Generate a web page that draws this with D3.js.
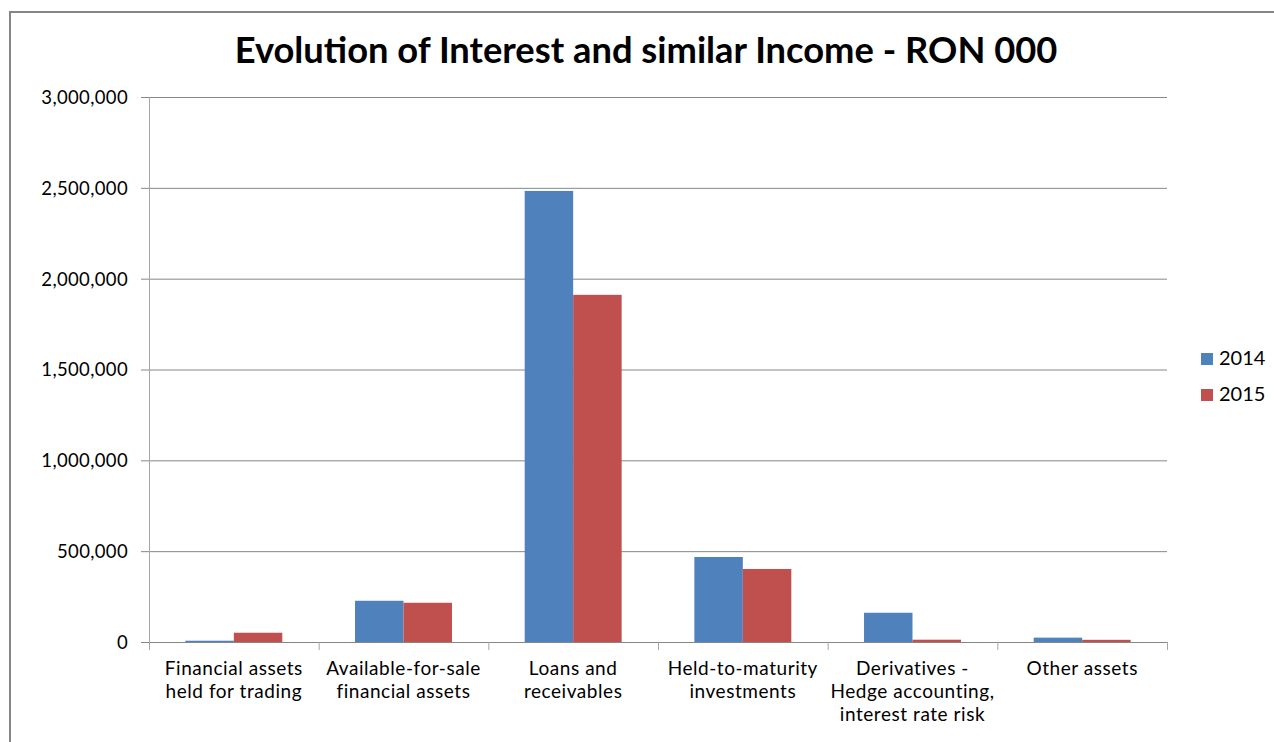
<!DOCTYPE html>
<html lang="en">
<head>
    <meta charset="UTF-8">
    <title>Evolution of Interest and similar Income</title>
    <script src="https://d3js.org/d3.v7.min.js"></script>
    <style>
        body { margin: 0; background: #fff; }
        text { font-family: Lato, "Open Sans", sans-serif; fill: #000; }
    </style>
</head>
<body>
<script>
    const width = 1274;
    const height = 742;

    // data (RON 000)
    const categories = [
        "Financial assets\nheld for trading",
        "Available-for-sale\nfinancial assets",
        "Loans and\nreceivables",
        "Held-to-maturity\ninvestments",
        "Derivatives -\nHedge accounting,\ninterest rate risk",
        "Other assets"
    ];
    const series = ["2014", "2015"];
    const values2014 = [7000, 227000, 2483000, 468000, 161000, 24000];
    const values2015 = [51000, 216000, 1911000, 402000, 12700, 12000];
    const yTicks = [0, 500000, 1000000, 1500000, 2000000, 2500000, 3000000];
    const colors = ["#4F81BD", "#C0504D"];

    const plot = {left: 149, right: 1167, top: 97, bottom: 642};

    const svg = d3.select("body").append("svg")
            .attr("width", width).attr("height", height);

    // chart border (runs off the right and bottom edges)
    svg.append("rect")
            .attr("x", 10).attr("y", 12)
            .attr("width", 1400).attr("height", 900)
            .style("fill", "none")
            .style("stroke", "#868686")
            .style("stroke-width", 2);

    // title, sized so it spans the same width as in the original
    const title = svg.append("text")
            .attr("x", 646).attr("y", 63)
            .attr("text-anchor", "middle")
            .style("font-size", "33px")
            .style("font-weight", "bold")
            .text("Evolution of Interest and similar Income - RON 000");
    const tw = title.node().getComputedTextLength();
    if (tw > 0) title.style("font-size", (33 * 823 / tw).toFixed(1) + "px");

    const x = d3.scaleBand()
            .domain(categories)
            .range([plot.left, plot.right])
            .paddingInner(0).paddingOuter(0);

    const xSeries = d3.scaleBand()
            .domain(series)
            .range([0, x.bandwidth()])
            .paddingInner(0).paddingOuter(0.75);

    const y = d3.scaleLinear()
            .domain([0, 3000000])
            .range([plot.bottom, plot.top]);

    // gridlines
    svg.append("g")
            .attr("transform", `translate(${plot.left},0)`)
            .call(d3.axisLeft(y).tickValues(yTicks.filter(d => d > 0))
                    .tickSize(-(plot.right - plot.left)).tickFormat(""))
            .call(g => g.select(".domain").remove())
            .call(g => g.selectAll("line").style("stroke", "#868686"));

    // y axis
    svg.append("g")
            .attr("transform", `translate(${plot.left},0)`)
            .call(d3.axisLeft(y).tickValues(yTicks).tickSize(8).tickPadding(13)
                    .tickFormat(d3.format(",")))
            .call(g => g.select(".domain").attr("d", `M0.5,${plot.top}V${plot.bottom}`)
                    .style("stroke", "#a6a6a6"))
            .call(g => g.selectAll("line").style("stroke", "#868686"))
            .call(g => g.selectAll("text").style("font-size", "18.5px")
                    .style("letter-spacing", "0.35px")
                    .style("font-family", "Lato, sans-serif").attr("dy", "0.35em"));

    // bars
    const data = categories.map((c, i) => ({cat: c, vals: [values2014[i], values2015[i]]}));

    const group = svg.selectAll("g.cat")
            .data(data)
            .enter()
            .append("g")
            .attr("class", "cat")
            .attr("transform", d => `translate(${x(d.cat)},0)`);

    group.selectAll("rect")
            .data(d => d.vals.map((v, j) => ({s: series[j], v: v, c: colors[j]})))
            .enter()
            .append("rect")
            .attr("x", d => xSeries(d.s))
            .attr("width", xSeries.bandwidth())
            .attr("y", d => y(d.v))
            .attr("height", d => y(0) - y(d.v))
            .style("fill", d => d.c);

    // x axis line and ticks at category boundaries
    const xAxis = svg.append("g");
    xAxis.append("line")
            .attr("x1", plot.left).attr("x2", plot.right)
            .attr("y1", y(0) + 0.5).attr("y2", y(0) + 0.5)
            .style("stroke", "#868686");
    xAxis.selectAll("line.tick")
            .data(categories.map(c => x(c)).concat([x(categories[categories.length - 1]) + x.bandwidth()]))
            .enter()
            .append("line")
            .attr("class", "tick")
            .attr("x1", d => d + 0.5).attr("x2", d => d + 0.5)
            .attr("y1", y(0)).attr("y2", y(0) + 8)
            .style("stroke", "#a6a6a6");

    const labels = xAxis.selectAll("text")
            .data(categories)
            .enter()
            .append("text")
            .attr("text-anchor", "middle")
            .attr("x", d => x(d) + x.bandwidth() / 2)
            .attr("y", y(0) + 33)
            .style("font-size", "19px")
            .style("letter-spacing", "0.55px");
    labels.selectAll("tspan")
            .data(d => d.split("\n"))
            .enter()
            .append("tspan")
            .attr("x", function() { return this.parentNode.getAttribute("x"); })
            .attr("dy", (d, i) => i === 0 ? 0 : 23)
            .text(d => d);

    // legend
    const legend = svg.selectAll("g.legend")
            .data(series)
            .enter()
            .append("g")
            .attr("class", "legend")
            .attr("transform", (d, i) => `translate(1201,${353 + i * 36})`);
    legend.append("rect")
            .attr("width", 12).attr("height", 12)
            .style("fill", (d, i) => colors[i]);
    legend.append("text")
            .attr("x", 18).attr("y", 12)
            .style("font-size", "20px")
            .text(d => d);
</script>
</body>
</html>
